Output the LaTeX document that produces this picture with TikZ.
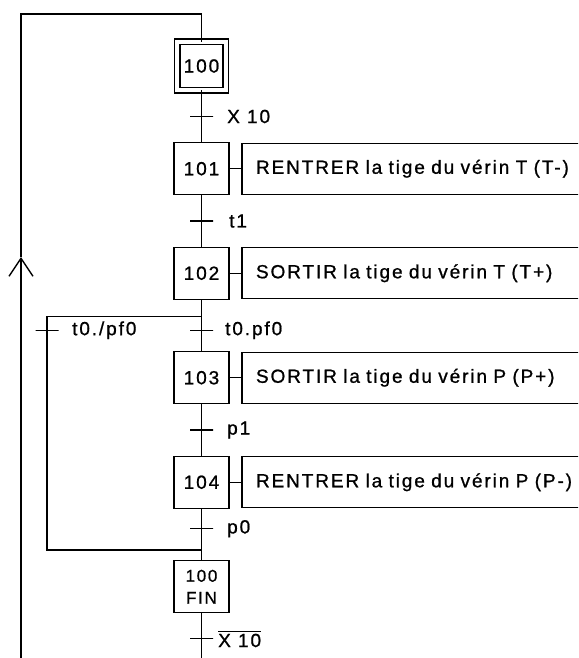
\documentclass[tikz,border=0pt]{standalone}
\usepackage{amsmath}
\usepackage{fontspec}
\setmainfont{Liberation Sans}[LetterSpace=10, FakeBold=0.9]
\usepackage{tikz}
\usetikzlibrary{arrows.meta, positioning}
\tikzset{
  stepbox/.style={rectangle, draw=black, fill=white, minimum width=55pt,
    minimum height=52pt, inner sep=0pt, outer sep=0pt, line width=1.4pt,
    font=\fontsize{19}{20}\selectfont},
  initbox/.style={rectangle, draw=black, fill=white, double, double distance=4.2pt,
    minimum size=48.5pt, inner sep=0pt, outer sep=0pt, line width=1.4pt,
    font=\fontsize{19}{20}\selectfont},
  finbox/.style={stepbox, align=center, font=\fontsize{17}{22}\selectfont},
  actbox/.style={rectangle, draw=black, fill=white, text width=340pt, align=left,
    inner xsep=14pt, minimum height=51pt, outer sep=0pt, line width=1.4pt,
    font=\fontsize{19}{20}\selectfont},
  trans/.style={rectangle, draw=black, minimum width=23pt, minimum height=0pt,
    inner sep=0pt, outer sep=0pt, line width=1.2pt},
  cond/.style={anchor=west, inner sep=0pt, font=\fontsize{19}{20}\selectfont},
  line/.style={line width=1.4pt, color=black},
  arrow/.style={-{Straight Barb[length=18pt, width=24pt]}, line width=1.4pt, color=black}
}
\begin{document}
\begin{tikzpicture}[x=1pt, y=1pt, node distance=52.5pt and 13pt]
  \useasboundingbox (0,0) rectangle (578,-658);
  \clip (0,0) rectangle (578,-658);

  % Steps
  \node[initbox] (s100) at (201.5,-66) {100};
  \node[stepbox, below=of s100] (s101) {101};
  \node[stepbox, below=of s101] (s102) {102};
  \node[stepbox, below=of s102] (s103) {103};
  \node[stepbox, below=of s103] (s104) {104};
  \node[finbox, below=of s104] (fin) {100\\FIN};

  % Actions
  \node[actbox, right=of s101] (a101) {RENTRER la tige du vérin T (T-)};
  \node[actbox, right=of s102] (a102) {SORTIR la tige du vérin T (T+)};
  \node[actbox, right=of s103] (a103) {SORTIR la tige du vérin P (P+)};
  \node[actbox, right=of s104] (a104) {RENTRER la tige du vérin P (P-)};

  % Transitions
  \node[trans, below=26.25pt of s100] (tx10) {};
  \node[trans, below=26.25pt of s101] (tt1) {};
  \node[trans, below=31pt of s102] (tt0) {};
  \node[trans, left=131.5pt of tt0] (tl0) {};
  \node[trans, below=26.25pt of s103] (tp1) {};
  \node[trans, below=20.5pt of s104] (tp0) {};
  \node[trans, below=26pt of fin] (tnx) {};

  \node[cond, right=14pt of tx10] (cx10) {X 10};
  \node[cond, right=16pt of tt1] (ct1) {t1};
  \node[cond, right=12pt of tt0] (ct0) {t0.pf0};
  \node[cond, right=13.5pt of tl0] (cl0) {t0./pf0};
  \node[cond, right=14pt of tp1] (cp1) {p1};
  \node[cond, right=14pt of tp0] (cp0) {p0};
  \node[cond, right=5pt of tnx] (cnx) {$\overline{\mbox{X 10}}$};

  % Junctions and loop points
  \coordinate[below=17pt of s102] (dv);
  \coordinate[below=41.75pt of s104] (cv);
  \coordinate (bot) at (201.5,-670);
  \coordinate (lbot) at (21,-670);
  \coordinate (ltip) at (21,-257);
  \coordinate (ltop) at (21,-14);

  % Paths
  \draw[line] (s100) -- (tx10) -- (s101);
  \draw[line] (s101) -- (tt1) -- (s102);
  \draw[line] (s102) -- (dv) -- (tt0) -- (s103);
  \draw[line] (s103) -- (tp1) -- (s104);
  \draw[line] (s104) -- (tp0) -- (cv) -- (fin);
  \draw[line] (fin) -- (tnx) -- (bot);
  \draw[line] (dv) -| (tl0) |- (cv);
  \draw[line] (s101) -- (a101);
  \draw[line] (s102) -- (a102);
  \draw[line] (s103) -- (a103);
  \draw[line] (s104) -- (a104);
  \draw[arrow] (lbot) -- (ltip);
  \draw[line] (ltip) -- (ltop) -| (s100);
\end{tikzpicture}
\end{document}
